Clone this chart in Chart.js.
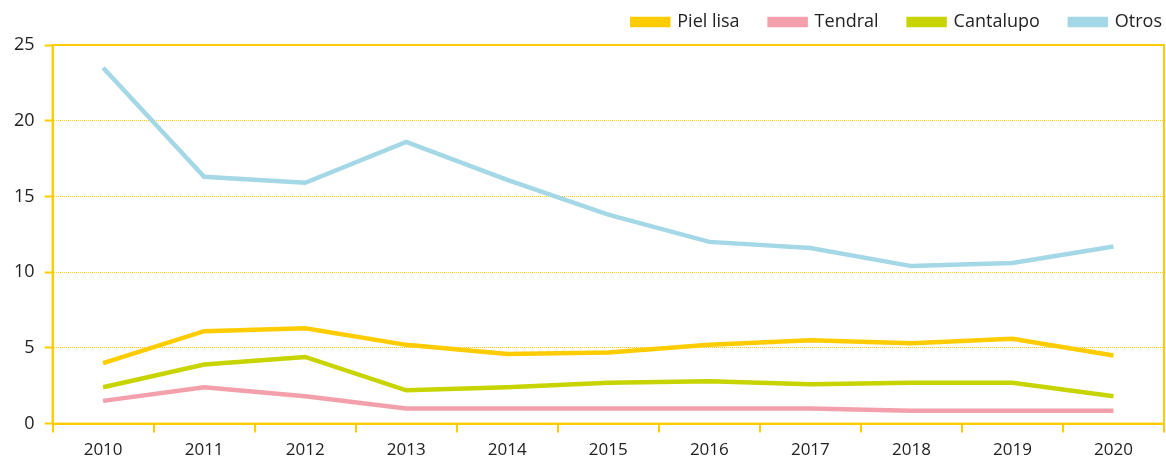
<!DOCTYPE html>
<html><head><meta charset="utf-8">
<script src="https://cdn.jsdelivr.net/npm/chart.js@4.4.1/dist/chart.umd.min.js"></script>
<style>html,body{margin:0;padding:0;background:#fff}#wrap{width:1166px;height:457px}</style>
</head><body><div id="wrap"><canvas id="c"></canvas></div>
<script>
const categories = ['2010','2011','2012','2013','2014','2015','2016','2017','2018','2019','2020'];
const pielLisa  = [4.0, 6.1, 6.3, 5.2, 4.6, 4.7, 5.2, 5.5, 5.3, 5.6, 4.5];
const tendral   = [1.5, 2.4, 1.8, 1.0, 1.0, 1.0, 1.0, 1.0, 0.85, 0.85, 0.85];
const cantalupo = [2.4, 3.9, 4.4, 2.2, 2.4, 2.7, 2.8, 2.6, 2.7, 2.7, 1.8];
const otros     = [23.5, 16.3, 15.9, 18.6, 16.1, 13.8, 12.0, 11.6, 10.4, 10.6, 11.7];
const yTicks = [0, 5, 10, 15, 20, 25];

const YEL = '#FFCC00';
const FONT = "'Open Sans', 'Noto Sans', sans-serif";
const LEGEND_H = 62;
const LEGEND_SHIFT = 28;
const frame = {
  id: 'frame',
  beforeLayout(chart) {
    const lg = chart.legend;
    if (lg && !lg._wrapped) {
      const orig = lg.fit.bind(lg);
      lg.fit = function () { orig(); this.height = LEGEND_H; };
      lg._wrapped = true;
    }
  },
  afterLayout(chart) {
    const lg = chart.legend;
    if (lg) { lg.left += LEGEND_SHIFT; lg.right += LEGEND_SHIFT; }
  },
  afterDatasetsDraw(chart) {
    const {ctx, chartArea: a} = chart;
    ctx.save();
    ctx.strokeStyle = YEL; ctx.lineWidth = 2;
    ctx.strokeRect(a.left, a.top, a.right - a.left, a.bottom - a.top);
    ctx.restore();
  }
};
const ds = (label, data, color) => ({label, data, borderColor: color, backgroundColor: color,
  borderWidth: 4.5, pointRadius: 0, tension: 0, fill: false});

new Chart(document.getElementById('c'), {
  type: 'line',
  data: {
    labels: categories,
    datasets: [
      ds('Piel lisa', pielLisa, '#FFCC00'),
      ds('Tendral', tendral, '#F4A0AC'),
      ds('Cantalupo', cantalupo, '#C8D400'),
      ds('Otros', otros, '#A5D8E6')
    ]
  },
  options: {
    responsive: true, maintainAspectRatio: false, animation: false,
    layout: {padding: {left: 4, right: 2, top: -17, bottom: -10}},
    plugins: {
      tooltip: {enabled: false},
      legend: {
        position: 'top', align: 'end',
        labels: {boxWidth: 36, boxHeight: 6, padding: 30, color: '#222',
          font: {family: FONT, size: 18}}
      }
    },
    scales: {
      x: {
        offset: true,
        grid: {offset: true, drawOnChartArea: false, color: YEL, lineWidth: 2, tickLength: 9},
        border: {color: YEL, width: 2},
        ticks: {color: '#222', font: {family: FONT, size: 17}, padding: 7, maxRotation: 0}
      },
      y: {
        min: 0, max: 25,
        afterBuildTicks: s => { s.ticks = yTicks.map(v => ({value: v})); },
        grid: {color: YEL, lineWidth: 1, tickLength: 8, tickBorderDash: [], tickWidth: 2},
        border: {color: YEL, width: 2, dash: [1, 1]},
        ticks: {color: '#222', font: {family: FONT, size: 18}, padding: 10}
      }
    }
  },
  plugins: [frame]
});
</script></body></html>
